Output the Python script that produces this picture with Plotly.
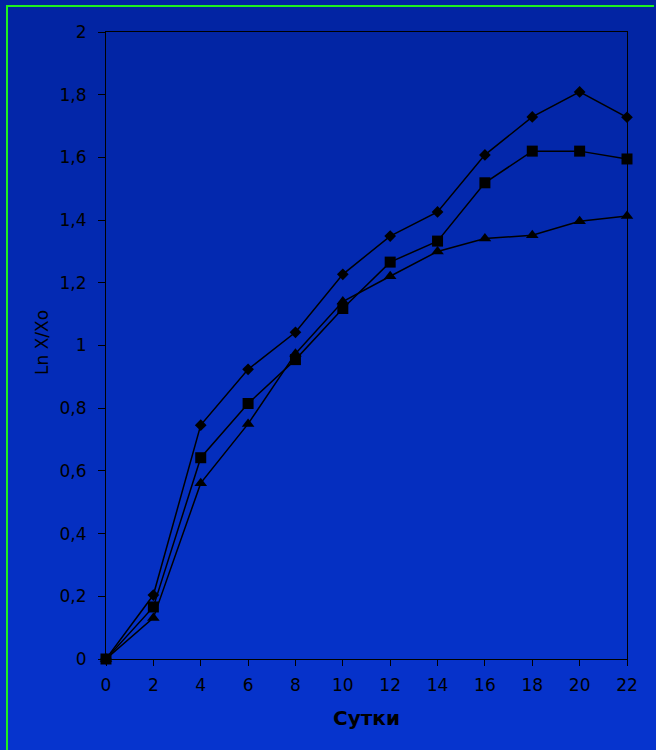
import plotly.graph_objects as go

# Growth data: natural log of biomass ratio vs. days
days = [0, 2, 4, 6, 8, 10, 12, 14, 16, 18, 20, 22]
series_diamond = [0, 0.204, 0.746, 0.924, 1.042, 1.227, 1.349, 1.426, 1.608, 1.729, 1.809, 1.728]
series_square = [0, 0.166, 0.642, 0.815, 0.955, 1.118, 1.266, 1.333, 1.519, 1.620, 1.620, 1.595]
series_triangle = [0, 0.131, 0.561, 0.750, 0.974, 1.140, 1.221, 1.300, 1.341, 1.352, 1.396, 1.413]

y_tickvals = [0, 0.2, 0.4, 0.6, 0.8, 1.0, 1.2, 1.4, 1.6, 1.8, 2.0]
y_ticktext = ["0", "0,2", "0,4", "0,6", "0,8", "1", "1,2", "1,4", "1,6", "1,8", "2"]
x_tickvals = days

W, H = 656, 750
ML, MR, MT, MB = 106, 29, 32, 91
PW, PH = W - ML - MR, H - MT - MB


def px_to_paper_x(px):
    return (px - ML) / PW


def px_to_paper_y(py):
    return 1 - (py - MT) / PH


def lerp_color(c0, c1, t):
    return "rgb({},{},{})".format(*[round(a + (b - a) * t) for a, b in zip(c0, c1)])


fig = go.Figure()

line_style = dict(color="black", width=1.5)
fig.add_trace(go.Scatter(
    x=days, y=series_triangle, mode="lines+markers", line=line_style,
    marker=dict(symbol="triangle-up", size=11, color="black"), cliponaxis=False,
))
fig.add_trace(go.Scatter(
    x=days, y=series_square, mode="lines+markers", line=line_style,
    marker=dict(symbol="square", size=11, color="black"), cliponaxis=False,
))
fig.add_trace(go.Scatter(
    x=days, y=series_diamond, mode="lines+markers", line=line_style,
    marker=dict(symbol="diamond", size=9, color="black"), cliponaxis=False,
))

# Vertical blue gradient background as thin stacked bands
top_rgb = (2, 36, 162)
bot_rgb = (6, 52, 206)
bands = 75
shapes = []
for i in range(bands):
    y0 = i * H / bands
    y1 = min((i + 1) * H / bands + 1, H)
    shapes.append(dict(
        type="rect", xref="paper", yref="paper", layer="below",
        x0=px_to_paper_x(0), x1=px_to_paper_x(W),
        y0=px_to_paper_y(y0), y1=px_to_paper_y(y1),
        line=dict(width=0), fillcolor=lerp_color(top_rgb, bot_rgb, i / (bands - 1)),
    ))

# Green frame: only the left and top edges fall inside the page
frame_color = "#1ef01e"
shapes.append(dict(
    type="line", xref="paper", yref="paper", layer="above",
    x0=px_to_paper_x(7), x1=px_to_paper_x(7),
    y0=px_to_paper_y(6), y1=px_to_paper_y(H),
    line=dict(color=frame_color, width=2),
))
shapes.append(dict(
    type="line", xref="paper", yref="paper", layer="above",
    x0=px_to_paper_x(6), x1=px_to_paper_x(W - 2),
    y0=px_to_paper_y(6), y1=px_to_paper_y(6),
    line=dict(color=frame_color, width=2),
))

font_family = "DejaVu Sans, Verdana, sans-serif"

fig.update_layout(
    width=W, height=H,
    margin=dict(l=ML, r=MR, t=MT, b=MB),
    paper_bgcolor="rgb(4,46,190)",
    plot_bgcolor="rgba(0,0,0,0)",
    showlegend=False,
    shapes=shapes,
    font=dict(family=font_family, color="black", size=17),
    xaxis=dict(
        range=[0, 22], tickvals=x_tickvals, ticks="outside", ticklen=6,
        tickcolor="black", showline=True, linecolor="black", linewidth=1,
        mirror=True, showgrid=False, zeroline=False, ticklabelstandoff=5,
        tickfont=dict(size=17, family=font_family, color="black"),
    ),
    yaxis=dict(
        range=[0, 2], tickvals=y_tickvals, ticktext=y_ticktext,
        ticks="outside", ticklen=7, tickcolor="black",
        showline=True, linecolor="black", linewidth=1,
        mirror=True, showgrid=False, zeroline=False, ticklabelstandoff=8,
        tickfont=dict(size=17, family=font_family, color="black"),
    ),
    annotations=[
        dict(text="<b>Сутки</b>", xref="paper", yref="paper",
             x=0.5, y=px_to_paper_y(718), xanchor="center", yanchor="middle",
             showarrow=False, font=dict(size=20, family=font_family, color="black")),
        dict(text="Ln X/Xo", xref="paper", yref="paper",
             x=px_to_paper_x(42), y=px_to_paper_y(343), xanchor="center", yanchor="middle",
             textangle=-90, showarrow=False,
             font=dict(size=17, family=font_family, color="black")),
    ],
)

fig.write_html("out.html")
